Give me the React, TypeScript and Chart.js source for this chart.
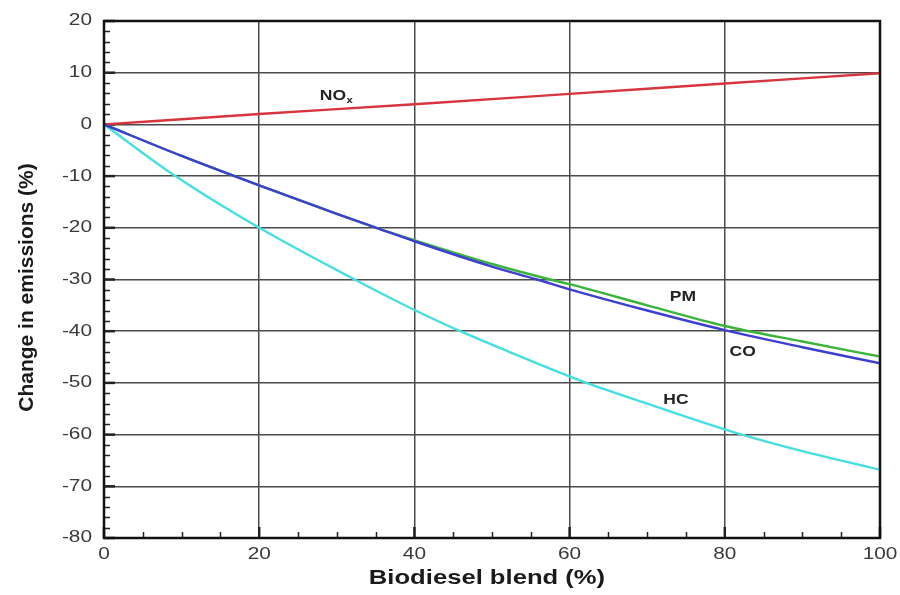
import React, { useEffect, useRef } from "react";
import { Chart, registerables } from "chart.js";

Chart.register(...registerables);

// ---- data ----
const noxBlend = [0, 20, 40, 60, 80, 100];
const noxChange = [0, 2.0, 3.9, 5.9, 7.9, 9.9];

const coBlend = [0, 10, 20, 30, 35.1, 40, 50, 55.8, 60, 70, 80, 90, 100];
const coChange = [0, -6.1, -11.8, -17.3, -20, -22.6, -27.5, -30, -31.9, -36, -39.8, -43.1, -46.2];

const pmBlend = [0, 10, 20, 30, 35.1, 40, 50, 57.5, 60, 70, 80, 90, 100];
const pmChange = [0, -6.1, -11.8, -17.3, -20, -22.4, -27.0, -30, -30.9, -35, -39.0, -42.0, -44.9];

const hcBlend = [0, 9.2, 20, 32.3, 40, 45.9, 50, 62.2, 70, 82.2, 90, 100];
const hcChange = [0, -10, -20, -30, -35.9, -40, -42.6, -50, -54.0, -60, -63.2, -66.8];

const seriesNames = ["CO", "PM", "NOx", "HC"];
const xTicks = [0, 20, 40, 60, 80, 100];
const yTicks = [-80, -70, -60, -50, -40, -30, -20, -10, 0, 10, 20];
const xTitle = "Biodiesel blend (%)";
const yTitle = "Change in emissions (%)";

// curve labels, placed in data coordinates
const labelText = ["NO", "PM", "CO", "HC"];
const labelX = [29.5, 74.6, 82.3, 73.7];
const labelY = [5.4, -33.4, -44.0, -53.3];

const FONT = "'Liberation Sans', Arial, sans-serif";
const toPts = (xs: number[], ys: number[]) => xs.map((x, i) => ({ x, y: ys[i] }));

function stretchedText(ctx: CanvasRenderingContext2D, t: string, x: number, y: number, sx: number) {
  ctx.save();
  ctx.translate(x, y);
  ctx.scale(sx, 1);
  ctx.fillText(t, 0, 0);
  ctx.restore();
}

const extrasPlugin = {
  id: "extras",
  beforeDatasetsDraw(chart: any) {
    const { ctx, chartArea: a, scales } = chart;
    const xs = scales.x;
    const ys = scales.y;
    ctx.save();
    ctx.strokeStyle = "#222";
    ctx.lineWidth = 1.5;
    for (let v = -80; v <= 20; v += 2) {
      if (v % 10 === 0) continue;
      const py = Math.round(ys.getPixelForValue(v)) + 0.5;
      ctx.beginPath();
      ctx.moveTo(a.left, py);
      ctx.lineTo(a.left + 6, py);
      ctx.stroke();
    }
    for (let v = 0; v <= 100; v += 5) {
      if (v % 20 === 0) continue;
      const px = Math.round(xs.getPixelForValue(v)) + 0.5;
      ctx.beginPath();
      ctx.moveTo(px, a.bottom);
      ctx.lineTo(px, a.bottom - 6);
      ctx.stroke();
    }
    ctx.lineWidth = 2.5;
    yTicks.forEach((v) => {
      const py = ys.getPixelForValue(v);
      ctx.beginPath();
      ctx.moveTo(a.left, py);
      ctx.lineTo(a.left + 11, py);
      ctx.stroke();
    });
    xTicks.forEach((v) => {
      const px = xs.getPixelForValue(v);
      ctx.beginPath();
      ctx.moveTo(px, a.bottom);
      ctx.lineTo(px, a.bottom - 11);
      ctx.stroke();
    });
    ctx.restore();
  },
  afterDatasetsDraw(chart: any) {
    const { ctx, chartArea: a, scales } = chart;
    ctx.save();
    ctx.strokeStyle = "#111";
    ctx.lineWidth = 2.5;
    ctx.strokeRect(a.left, a.top, a.right - a.left, a.bottom - a.top);

    // tick labels (slightly wide, as in the reference)
    ctx.fillStyle = "#3a3a3a";
    ctx.font = `16px ${FONT}`;
    ctx.textBaseline = "middle";
    ctx.textAlign = "right";
    yTicks.forEach((v) => {
      stretchedText(ctx, String(v), a.left - 12, scales.y.getPixelForValue(v), 1.3);
    });
    ctx.textAlign = "center";
    xTicks.forEach((v) => {
      stretchedText(ctx, String(v), scales.x.getPixelForValue(v), a.bottom + 17, 1.3);
    });

    // curve labels
    ctx.fillStyle = "#222";
    const sx = 1.25;
    labelText.forEach((t, i) => {
      const px = scales.x.getPixelForValue(labelX[i]);
      const py = scales.y.getPixelForValue(labelY[i]);
      ctx.font = `bold 14px ${FONT}`;
      ctx.textAlign = "center";
      stretchedText(ctx, t, px, py, sx);
      if (t === "NO") {
        const w = ctx.measureText(t).width * sx;
        ctx.font = `bold 9px ${FONT}`;
        ctx.textAlign = "left";
        stretchedText(ctx, "x", px + w / 2 + 0.5, py + 4, sx);
      }
    });

    // axis titles
    ctx.fillStyle = "#1a1a1a";
    ctx.font = `bold 21px ${FONT}`;
    ctx.textAlign = "center";
    stretchedText(ctx, xTitle, (a.left + a.right) / 2 - 5, 578, 1.22);
    ctx.save();
    ctx.translate(27, (a.top + a.bottom) / 2 + 8);
    ctx.rotate(-Math.PI / 2);
    ctx.fillText(yTitle, 0, 0);
    ctx.restore();
    ctx.restore();
  },
};

export default function App() {
  const ref = useRef<HTMLCanvasElement | null>(null);
  useEffect(() => {
    if (!ref.current) return;
    const chart = new Chart(ref.current, {
      type: "line",
      data: {
        datasets: [
          { label: seriesNames[0], data: toPts(coBlend, coChange), borderColor: "#3d3fd2" },
          { label: seriesNames[1], data: toPts(pmBlend, pmChange), borderColor: "#3cb43c" },
          { label: seriesNames[2], data: toPts(noxBlend, noxChange), borderColor: "#d8343e" },
          { label: seriesNames[3], data: toPts(hcBlend, hcChange), borderColor: "#45dfe0" },
        ].map((d) => ({
          ...d,
          borderWidth: 2.4,
          pointRadius: 0,
          fill: false,
          cubicInterpolationMode: "monotone" as const,
        })),
      },
      options: {
        animation: false,
        responsive: false,
        layout: { padding: { top: 21, right: 20, left: 0, bottom: 0 } },
        plugins: { legend: { display: false }, tooltip: { enabled: false } },
        scales: {
          x: {
            type: "linear",
            min: 0,
            max: 100,
            afterBuildTicks: (s: any) => {
              s.ticks = xTicks.map((v) => ({ value: v }));
            },
            afterFit: (s: any) => {
              s.height = 57;
            },
            grid: { color: "#4a4a4a", lineWidth: 1.5, drawTicks: false },
            border: { display: false },
            ticks: { display: false },
            title: { display: false, text: xTitle },
          },
          y: {
            type: "linear",
            min: -80,
            max: 20,
            afterBuildTicks: (s: any) => {
              s.ticks = yTicks.map((v) => ({ value: v }));
            },
            afterFit: (s: any) => {
              s.width = 104;
            },
            grid: { color: "#4a4a4a", lineWidth: 1.5, drawTicks: false },
            border: { display: false },
            ticks: { display: false },
            title: { display: false, text: yTitle },
          },
        },
      },
      plugins: [extrasPlugin],
    });
    return () => chart.destroy();
  }, []);
  return (
    <div style={{ position: "absolute", left: 0, top: 0, width: 900, height: 595, background: "#fff" }}>
      <canvas ref={ref} width={900} height={595} style={{ display: "block" }} />
    </div>
  );
}
